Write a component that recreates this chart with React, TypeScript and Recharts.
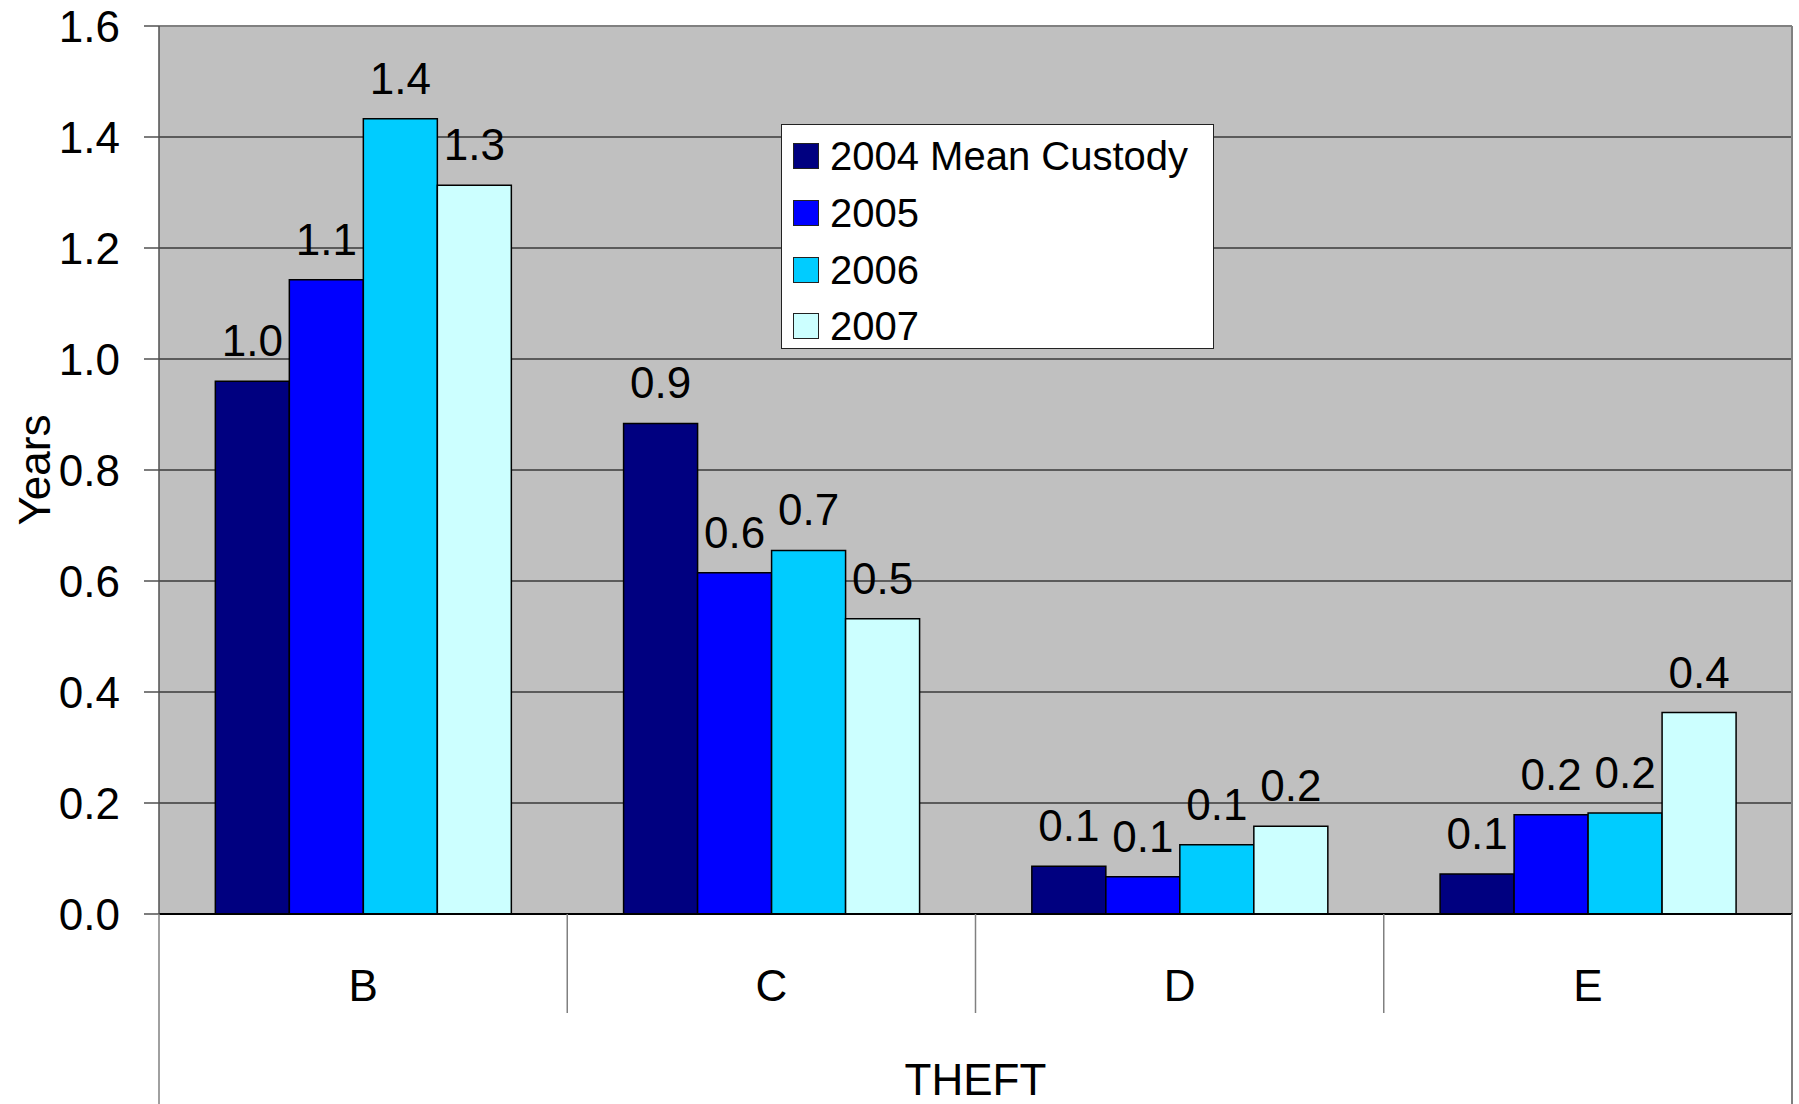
import React from "react";
import { Bar, BarChart, CartesianGrid, LabelList, Legend, ReferenceLine, XAxis, YAxis } from "recharts";

// THEFT custody (years) by category
const categories = ["B", "C", "D", "E"];
const custody2004 = [0.96, 0.884, 0.086, 0.072];
const custody2005 = [1.143, 0.615, 0.067, 0.179];
const custody2006 = [1.433, 0.655, 0.125, 0.182];
const custody2007 = [1.313, 0.532, 0.158, 0.363];
const seriesNames = ["2004 Mean Custody", "2005", "2006", "2007"];
const yTicks = [0, 0.2, 0.4, 0.6, 0.8, 1.0, 1.2, 1.4, 1.6];
const groupTitle = "THEFT";
const yTitle = "Years";

const data = categories.map((cat, i) => ({
  cat,
  y2004: custody2004[i],
  y2005: custody2005[i],
  y2006: custody2006[i],
  y2007: custody2007[i],
}));

const FONT = '"Liberation Sans", Arial, Helvetica, sans-serif';
const fmt = (v: any) => Number(v).toFixed(1);

function CategoryTick(props: any) {
  const { x, y, payload, index, width } = props;
  const band = (width || 1633) / categories.length;
  const left = x - band / 2;
  const right = x + band / 2;
  return (
    <g>
      <text x={x} y={y + 87} textAnchor="middle" fontSize={44} fill="#000">
        {payload.value}
      </text>
      {index > 0 && <line x1={left} x2={left} y1={y} y2={y + 99} stroke="#808080" strokeWidth={1.5} />}
      {index === 0 && <line x1={left} x2={left} y1={y} y2={y + 200} stroke="#808080" strokeWidth={1.5} />}
      {index === categories.length - 1 && (
        <line x1={right} x2={right} y1={y} y2={y + 200} stroke="#808080" strokeWidth={2} />
      )}
    </g>
  );
}

function YearsLabel(props: any) {
  const vb = props.viewBox || {};
  const cy = (vb.y ?? 26) + (vb.height ?? 888) / 2;
  return (
    <text
      x={35}
      y={cy}
      dy={15}
      transform={`rotate(-90 35 ${cy})`}
      textAnchor="middle"
      fontSize={44}
      fill="#000"
    >
      {yTitle}
    </text>
  );
}

function TheftLabel(props: any) {
  const vb = props.viewBox || {};
  const cx = (vb.x ?? 159) + (vb.width ?? 1633) / 2;
  const by = (vb.y ?? 914) + (vb.height ?? 190) - 9;
  return (
    <text x={cx} y={by} textAnchor="middle" fontSize={44} fill="#000">
      {groupTitle}
    </text>
  );
}

function LegendBox(props: any) {
  const items = props.payload || [];
  return (
    <div
      style={{
        width: 433,
        height: 225,
        background: "#fff",
        border: "1.5px solid #222",
        boxSizing: "border-box",
        paddingTop: 3,
        fontFamily: FONT,
      }}
    >
      {items.map((it: any) => (
        <div key={it.value} style={{ display: "flex", alignItems: "center", height: 56.7 }}>
          <div
            style={{
              width: 26,
              height: 26,
              marginLeft: 11,
              marginRight: 11,
              background: it.color,
              border: "1.5px solid #222",
              boxSizing: "border-box",
            }}
          />
          <span style={{ fontSize: 40, lineHeight: 1, color: "#000" }}>{it.value}</span>
        </div>
      ))}
    </div>
  );
}

export default function App() {
  return (
    <div
      style={{
        position: "absolute",
        left: 0,
        top: 0,
        width: 1799,
        height: 1104,
        background: "#fff",
        fontFamily: FONT,
      }}
    >
      <BarChart
        width={1799}
        height={1104}
        data={data}
        margin={{ top: 26, right: 7, bottom: 0, left: 0 }}
        barCategoryGap="13.8%"
        barGap={0}
      >
        <CartesianGrid vertical={false} fill="#C0C0C0" fillOpacity={1} stroke="#3a3a3a" strokeWidth={1.3} />
        <CartesianGrid
          horizontal={false}
          stroke="#808080"
          strokeWidth={2}
          verticalCoordinatesGenerator={(p: any) =>
            p && p.offset ? [p.offset.left + p.offset.width] : [1792]
          }
        />
        <ReferenceLine y={1.6} stroke="#808080" strokeWidth={2} />
        <XAxis
          dataKey="cat"
          height={190}
          interval={0}
          tickSize={0}
          tickMargin={0}
          tickLine={false}
          axisLine={{ stroke: "#000", strokeWidth: 2 }}
          tick={<CategoryTick />}
          label={<TheftLabel />}
        />
        <YAxis
          width={159}
          domain={[0, 1.6]}
          ticks={yTicks}
          tickFormatter={fmt}
          tickSize={15}
          tickMargin={24}
          tick={{ fontSize: 44, fill: "#000" }}
          axisLine={{ stroke: "#505050", strokeWidth: 1.5 }}
          tickLine={{ stroke: "#505050", strokeWidth: 1.5 }}
          label={<YearsLabel />}
        />
        <Legend
          layout="vertical"
          align="center"
          verticalAlign="middle"
          content={<LegendBox />}
          wrapperStyle={{ position: "absolute", left: 781, top: 124, width: 433, height: 225 }}
        />
        <Bar dataKey="y2004" name={seriesNames[0]} fill="#000080" stroke="#000" strokeWidth={1.5} isAnimationActive={false}>
          <LabelList dataKey="y2004" position="top" offset={25} formatter={fmt} fontSize={44} fill="#000" />
        </Bar>
        <Bar dataKey="y2005" name={seriesNames[1]} fill="#0000FF" stroke="#000" strokeWidth={1.5} isAnimationActive={false}>
          <LabelList dataKey="y2005" position="top" offset={25} formatter={fmt} fontSize={44} fill="#000" />
        </Bar>
        <Bar dataKey="y2006" name={seriesNames[2]} fill="#00CCFF" stroke="#000" strokeWidth={1.5} isAnimationActive={false}>
          <LabelList dataKey="y2006" position="top" offset={25} formatter={fmt} fontSize={44} fill="#000" />
        </Bar>
        <Bar dataKey="y2007" name={seriesNames[3]} fill="#CCFFFF" stroke="#000" strokeWidth={1.5} isAnimationActive={false}>
          <LabelList dataKey="y2007" position="top" offset={25} formatter={fmt} fontSize={44} fill="#000" />
        </Bar>
      </BarChart>
    </div>
  );
}
